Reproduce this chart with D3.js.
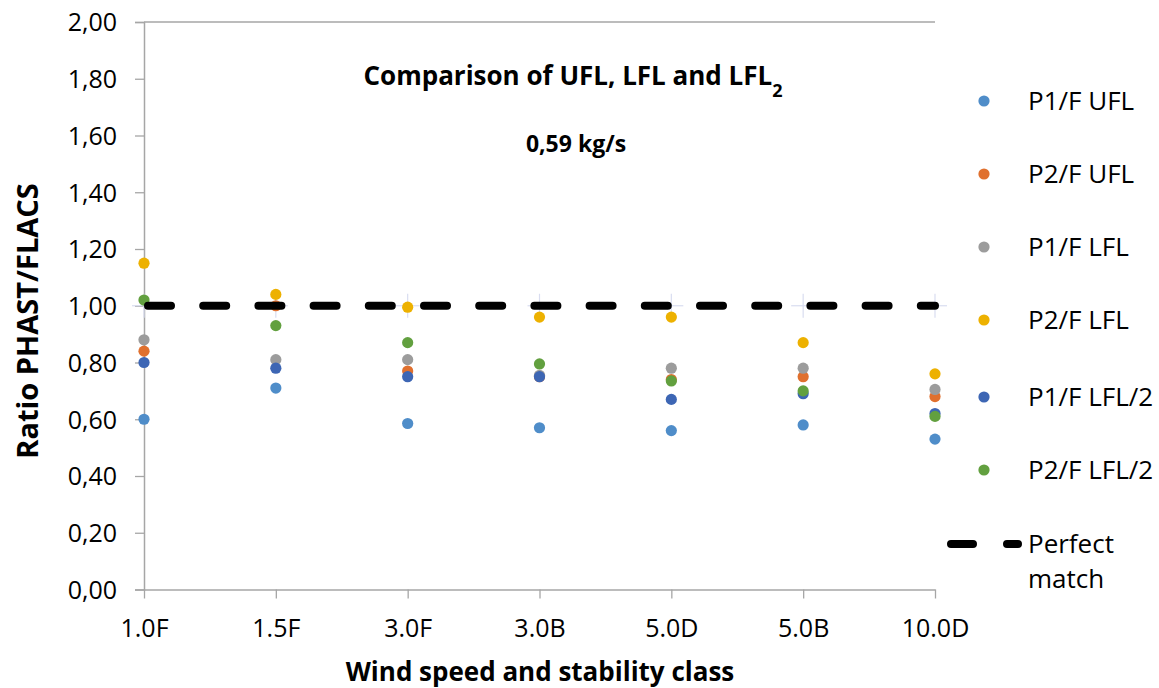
<!DOCTYPE html>
<html><head><meta charset="utf-8">
<script src="https://cdn.jsdelivr.net/npm/d3@7/dist/d3.min.js"></script>
<style>
html,body{margin:0;padding:0;background:#fff;}
svg text{font-family:"Open Sans","DejaVu Sans",sans-serif;fill:#000;}
</style></head>
<body><svg id="chart" width="1159" height="688"></svg>
<script>
const categories = ["1.0F","1.5F","3.0F","3.0B","5.0D","5.0B","10.0D"];
const p1UFL  = [0.60, 0.71, 0.585, 0.57, 0.56, 0.58, 0.53];
const p2UFL  = [0.84, 1.00, 0.77, 0.75, 0.74, 0.75, 0.68];
const p1LFL  = [0.88, 0.81, 0.81, 0.755, 0.78, 0.78, 0.705];
const p2LFL  = [1.15, 1.04, 0.995, 0.96, 0.96, 0.87, 0.76];
const p1LFL2 = [0.80, 0.78, 0.75, 0.75, 0.67, 0.69, 0.62];
const p2LFL2 = [1.02, 0.93, 0.87, 0.795, 0.735, 0.70, 0.61];
const perfect = [1,1,1,1,1,1,1];
const yTicks = [0,0.2,0.4,0.6,0.8,1.0,1.2,1.4,1.6,1.8,2.0];

const series = [
  {name:"P1/F UFL",   values:p1UFL,  color:"#4f8dc9"},
  {name:"P2/F UFL",   values:p2UFL,  color:"#e0702e"},
  {name:"P1/F LFL",   values:p1LFL,  color:"#9c9c9c"},
  {name:"P2/F LFL",   values:p2LFL,  color:"#edb100"},
  {name:"P1/F LFL/2", values:p1LFL2, color:"#3d66b4"},
  {name:"P2/F LFL/2", values:p2LFL2, color:"#62a03f"}
];

const svg = d3.select("#chart");
const L = 144, R = 935, T = 22, B = 589.5;
const x = d3.scalePoint().domain(categories).range([L, R]);
const y = d3.scaleLinear().domain([0, 2]).range([B, T]);
const fmt = d => d.toFixed(2).replace(".", ",");

// top border line
svg.append("line").attr("x1", L).attr("x2", R).attr("y1", y(2)).attr("y2", y(2))
  .attr("stroke", "#a6a6a6").attr("stroke-width", 1.5);

// y axis
const yAxis = svg.append("g").attr("transform", `translate(${L},0)`)
  .call(d3.axisLeft(y).tickValues(yTicks).tickFormat(fmt).tickSize(9).tickPadding(18));
yAxis.select(".domain").attr("stroke", "#a6a6a6").attr("stroke-width", 1.5);
yAxis.selectAll(".tick line").attr("stroke", "#a6a6a6").attr("stroke-width", 1.3);
yAxis.selectAll("text").attr("font-size", 25).attr("fill", "#000").attr("dy", "0.35em");

// x axis
const xAxis = svg.append("g").attr("transform", `translate(0,${B})`)
  .call(d3.axisBottom(x).tickSize(9).tickPadding(21).tickSizeOuter(0));
xAxis.select(".domain").attr("stroke", "#a6a6a6").attr("stroke-width", 1.5);
xAxis.selectAll(".tick line").attr("stroke", "#a6a6a6").attr("stroke-width", 1.3);
xAxis.selectAll("text").attr("font-size", 25).attr("fill", "#000");

// faint error-bar crosshairs of perfect match series
const eb = svg.append("g").attr("stroke", "#d9ddf0").attr("stroke-width", 1.2);
categories.forEach((c, i) => {
  eb.append("line").attr("x1", x(c) - 12).attr("x2", x(c) + 12)
    .attr("y1", y(perfect[i])).attr("y2", y(perfect[i]));
  eb.append("line").attr("x1", x(c)).attr("x2", x(c))
    .attr("y1", y(perfect[i]) - 12).attr("y2", y(perfect[i]) + 12);
});

// points
series.forEach(s => {
  svg.append("g").selectAll("circle").data(s.values).join("circle")
    .attr("cx", (d, i) => x(categories[i]))
    .attr("cy", d => y(d))
    .attr("r", 5.6)
    .attr("fill", s.color);
});

// perfect match dashed line
const line = d3.line().x((d, i) => x(categories[i])).y(d => y(d));
svg.append("path").datum(perfect).attr("d", line)
  .attr("fill", "none").attr("stroke", "#000").attr("stroke-width", 8)
  .attr("stroke-linecap", "round").attr("stroke-dasharray", "23,32.2")
  .attr("stroke-dashoffset", -4);

// titles
svg.append("text").attr("x", 573).attr("y", 85).attr("text-anchor", "middle")
  .attr("font-size", 26).attr("font-weight", "bold")
  .html('Comparison of UFL, LFL and LFL<tspan baseline-shift="sub" font-size="18">2</tspan>');
svg.append("text").attr("x", 576).attr("y", 152).attr("text-anchor", "middle")
  .attr("font-size", 23).attr("font-weight", "bold").text("0,59 kg/s");

svg.append("text").attr("x", 540).attr("y", 681).attr("text-anchor", "middle")
  .attr("font-size", 26).attr("font-weight", "bold").text("Wind speed and stability class");
svg.append("text").attr("transform", "translate(38,321) rotate(-90)").attr("text-anchor", "middle")
  .attr("font-size", 29).attr("font-weight", "bold").text("Ratio PHAST/FLACS");

// legend
const legY = [101, 174, 247, 320, 397, 470];
const leg = svg.append("g");
series.forEach((s, i) => {
  leg.append("circle").attr("cx", 984).attr("cy", legY[i]).attr("r", 5.6).attr("fill", s.color);
  leg.append("text").attr("x", 1028).attr("y", legY[i]).attr("dy", "0.35em")
    .attr("font-size", 26).text(s.name);
});
leg.append("line").attr("x1", 951).attr("x2", 1018).attr("y1", 544).attr("y2", 544)
  .attr("stroke", "#000").attr("stroke-width", 8).attr("stroke-linecap", "round")
  .attr("stroke-dasharray", "22,34");
leg.append("text").attr("x", 1028).attr("y", 544).attr("dy", "0.35em").attr("font-size", 26).text("Perfect");
leg.append("text").attr("x", 1028).attr("y", 579).attr("dy", "0.35em").attr("font-size", 26).text("match");
</script></body></html>
